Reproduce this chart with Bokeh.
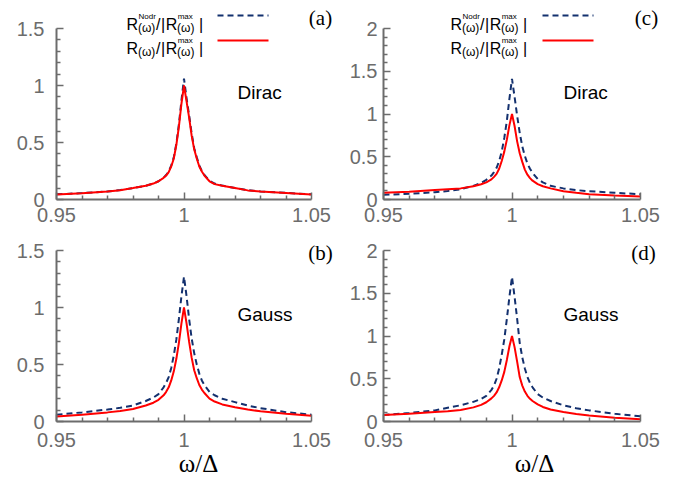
from bokeh.plotting import figure
from bokeh.layouts import column, row
from bokeh.models import Range1d, FixedTicker, CustomJSTickFormatter, Label, Arrow
from bokeh.embed import file_html
from bokeh.resources import INLINE

# ---------------- data ----------------
omega = [0.95, 0.96, 0.97, 0.975, 0.98, 0.985, 0.988, 0.99, 0.992, 0.993, 0.994,
         0.995, 0.996, 0.997, 0.998, 0.999, 1.0, 1.001, 1.002, 1.003, 1.004,
         1.005, 1.006, 1.007, 1.008, 1.01, 1.012, 1.015, 1.02, 1.025, 1.03,
         1.04, 1.05]

# (a) Dirac, first case
a_nodr = [0.045, 0.056, 0.071, 0.083, 0.10, 0.12, 0.14, 0.16, 0.19, 0.215, 0.245,
          0.30, 0.37, 0.49, 0.66, 0.87, 1.06, 0.89, 0.74, 0.58, 0.45,
          0.37, 0.30, 0.25, 0.215, 0.165, 0.14, 0.122, 0.10, 0.082, 0.071,
          0.058, 0.045]
a_dr = [0.044, 0.055, 0.07, 0.082, 0.10, 0.12, 0.14, 0.16, 0.19, 0.21, 0.24,
        0.29, 0.36, 0.48, 0.64, 0.84, 1.0, 0.86, 0.72, 0.56, 0.44,
        0.36, 0.29, 0.245, 0.21, 0.16, 0.135, 0.12, 0.10, 0.08, 0.07,
        0.058, 0.044]

# (b) Gauss, first case
b_nodr = [0.06, 0.08, 0.105, 0.12, 0.14, 0.18, 0.21, 0.24, 0.30, 0.34, 0.39,
          0.47, 0.58, 0.72, 0.90, 1.10, 1.27, 1.10, 0.90, 0.73, 0.60,
          0.50, 0.42, 0.36, 0.32, 0.26, 0.23, 0.20, 0.17, 0.14, 0.117,
          0.082, 0.06]
b_dr = [0.044, 0.06, 0.08, 0.093, 0.11, 0.14, 0.165, 0.19, 0.23, 0.26, 0.30,
        0.36, 0.44, 0.55, 0.69, 0.86, 1.0, 0.86, 0.70, 0.56, 0.45,
        0.38, 0.32, 0.28, 0.25, 0.20, 0.175, 0.15, 0.125, 0.105, 0.09,
        0.067, 0.05]

# (c) Dirac, second case
c_nodr = [0.055, 0.067, 0.085, 0.10, 0.12, 0.16, 0.195, 0.23, 0.28, 0.32, 0.37,
          0.45, 0.56, 0.72, 0.92, 1.18, 1.41, 1.20, 0.98, 0.78, 0.62,
          0.51, 0.42, 0.36, 0.31, 0.24, 0.20, 0.16, 0.13, 0.11, 0.097,
          0.078, 0.062]
c_dr = [0.078, 0.09, 0.11, 0.12, 0.13, 0.155, 0.178, 0.20, 0.235, 0.265, 0.30,
        0.36, 0.45, 0.56, 0.70, 0.87, 1.0, 0.86, 0.68, 0.54, 0.44,
        0.35, 0.29, 0.25, 0.22, 0.18, 0.155, 0.13, 0.097, 0.078, 0.062,
        0.047, 0.035]

# (d) Gauss, second case
d_nodr = [0.075, 0.10, 0.13, 0.16, 0.19, 0.23, 0.265, 0.30, 0.37, 0.42, 0.50,
          0.62, 0.78, 0.96, 1.20, 1.46, 1.69, 1.46, 1.20, 0.92, 0.75,
          0.62, 0.52, 0.45, 0.40, 0.32, 0.28, 0.24, 0.19, 0.155, 0.13,
          0.09, 0.06]
d_dr = [0.075, 0.09, 0.11, 0.12, 0.135, 0.165, 0.195, 0.225, 0.27, 0.30, 0.34,
        0.40, 0.48, 0.58, 0.72, 0.88, 1.0, 0.87, 0.70, 0.52, 0.42,
        0.35, 0.30, 0.265, 0.24, 0.20, 0.17, 0.14, 0.11, 0.088, 0.07,
        0.043, 0.027]

x_major = [0.95, 1.0, 1.05]
x_minor = [0.96, 0.97, 0.98, 0.99, 1.01, 1.02, 1.03, 1.04]

# ---------------- styling ----------------
NAVY = "#13306e"
RED = "#ff0000"
GREY = "#6c6c6c"
SANS = "Liberation Sans"
SERIF = "Liberation Serif"

fmt = CustomJSTickFormatter(code="return String(parseFloat(tick.toFixed(3)))")


def make_panel(spec):
    ox, oy = spec["ox"], spec["oy"]
    w, h = spec["w"], spec["h"]
    bl, br, bt, bb = spec["borders"]      # box of the drawn axes inside the figure
    ymax = spec["ymax"]
    fw = w - bl - br
    fh = h - bt - bb
    # the frame fills the figure up to its top and right edges; the axes are
    # bounded to the real data ranges so they stop where the reference's do
    x_end = 1.05 + br / fw * 0.1
    y_end = ymax + bt / fh * ymax

    def dx(px):  # page pixel -> data x
        return 0.95 + (px - ox - bl) / fw * 0.1

    def dy(py):  # page pixel -> data y
        return (oy + h - bb - py) / fh * ymax

    p = figure(width=w, height=h, output_backend="svg", toolbar_location=None,
               x_range=Range1d(0.95, x_end), y_range=Range1d(0, y_end),
               min_border_left=bl, min_border_right=0,
               min_border_top=0, min_border_bottom=bb)
    p.outline_line_color = None
    p.grid.visible = False
    p.background_fill_color = "white"
    p.border_fill_color = "white"

    p.line(omega, spec["nodr"], line_color=NAVY, line_width=2, line_dash="6 4")
    p.line(omega, spec["dr"], line_color=RED, line_width=2)

    p.xaxis.ticker = FixedTicker(ticks=x_major, minor_ticks=x_minor)
    p.xaxis.bounds = (0.95, 1.05)
    ymaj = [i * 0.5 for i in range(int(ymax / 0.5) + 1)]
    ymin = [round(i * 0.1, 2) for i in range(int(round(ymax / 0.1)) + 1)
            if round(i * 0.1, 2) not in ymaj]
    p.yaxis.ticker = FixedTicker(ticks=ymaj, minor_ticks=ymin)
    p.yaxis.bounds = (0, ymax)
    for ax in (p.xaxis[0], p.yaxis[0]):
        ax.formatter = fmt
        ax.axis_line_color = GREY
        ax.axis_line_width = 2
        ax.major_tick_line_color = GREY
        ax.major_tick_line_width = 1.5
        ax.minor_tick_line_color = GREY
        ax.minor_tick_line_width = 1.5
        ax.major_tick_in = 7
        ax.major_tick_out = 0
        ax.minor_tick_in = 4
        ax.minor_tick_out = 0
        ax.major_label_text_color = GREY
        ax.major_label_text_font = SANS
        ax.major_label_text_font_size = "20px"
    p.yaxis.major_label_standoff = spec["ystand"]
    p.xaxis.major_label_standoff = spec["xstand"]
    if spec.get("xlabel"):
        p.xaxis.axis_label = "ω/Δ"
        p.xaxis.axis_label_text_font = SERIF
        p.xaxis.axis_label_text_font_style = "normal"
        p.xaxis.axis_label_text_font_size = "25px"
        p.xaxis.axis_label_text_color = "black"
        p.xaxis.axis_label_standoff = 0

    # panel tag, e.g. (a)
    tx, ty = spec["tag_pos"]
    p.add_layout(Label(x=dx(tx), y=dy(ty), text=spec["tag"], text_font=SERIF,
                       text_font_size="21px", text_align="center",
                       text_baseline="middle", text_color="black"))
    # model name
    nx, ny = spec["name_pos"]
    p.add_layout(Label(x=dx(nx), y=dy(ny), text=spec["name"], text_font=SANS,
                       text_font_size="19px", text_align="left",
                       text_baseline="alphabetic", text_color="black"))

    # legend (rich text built from pieces)
    if spec.get("legend"):
        rx = spec["legend"]  # page x where the first "R" starts
        lx0, lx1 = spec["legend_line"]

        def piece(xp, yp, txt, size):
            p.add_layout(Label(x=dx(xp), y=dy(yp), text=txt, text_font=SANS,
                               text_font_size=size, text_align="left",
                               text_baseline="alphabetic", text_color="black"))

        for base, sup1 in ((24, "Nodr"), (48, None)):
            piece(rx, base, "R", "16px")
            piece(rx + 11.4, base + 3, "(ω)", "12px")
            if sup1:
                piece(rx + 12.0, base - 8, sup1, "8px")
            piece(rx + 29.5, base, "/", "16px")
            piece(rx + 34.5, base, "|", "16px")
            piece(rx + 39.2, base, "R", "16px")
            piece(rx + 50.6, base + 3, "(ω)", "12px")
            piece(rx + 51.2, base - 8, "max", "8px")
            piece(rx + 72.5, base, "|", "16px")

        p.add_layout(Arrow(end=None, x_start=dx(lx0), y_start=dy(15),
                           x_end=dx(lx1), y_end=dy(15), line_color=NAVY,
                           line_width=2, line_dash="6 4"))
        p.add_layout(Arrow(end=None, x_start=dx(lx0), y_start=dy(40),
                           x_end=dx(lx1), y_end=dy(40), line_color=RED,
                           line_width=2))
    return p


specs = [
    dict(ox=0, oy=0, w=340, h=230, borders=(56, 29, 28, 31), ymax=1.5,
         nodr=a_nodr, dr=a_dr, ystand=12, xstand=8, tag="(a)", tag_pos=(320, 17),
         name="Dirac", name_pos=(237, 92), legend=126, legend_line=(217, 268)),
    dict(ox=340, oy=0, w=345, h=230, borders=(43, 45, 28, 31), ymax=2.0,
         nodr=c_nodr, dr=c_dr, ystand=6, xstand=8, tag="(c)", tag_pos=(646, 17),
         name="Dirac", name_pos=(563, 92), legend=450, legend_line=(542, 593)),
    dict(ox=0, oy=230, w=340, h=255, borders=(56, 29, 20, 64), ymax=1.5,
         nodr=b_nodr, dr=b_dr, ystand=12, xstand=11, tag="(b)", tag_pos=(320, 252),
         name="Gauss", name_pos=(237, 314), xlabel=True),
    dict(ox=340, oy=230, w=345, h=255, borders=(43, 45, 20, 64), ymax=2.0,
         nodr=d_nodr, dr=d_dr, ystand=6, xstand=11, tag="(d)", tag_pos=(643, 252),
         name="Gauss", name_pos=(563, 314), xlabel=True),
]

pa, pc, pb, pd = [make_panel(s) for s in specs]
layout = column(row(pa, pc), row(pb, pd))

open("out.html", "w").write(file_html(layout, INLINE))
